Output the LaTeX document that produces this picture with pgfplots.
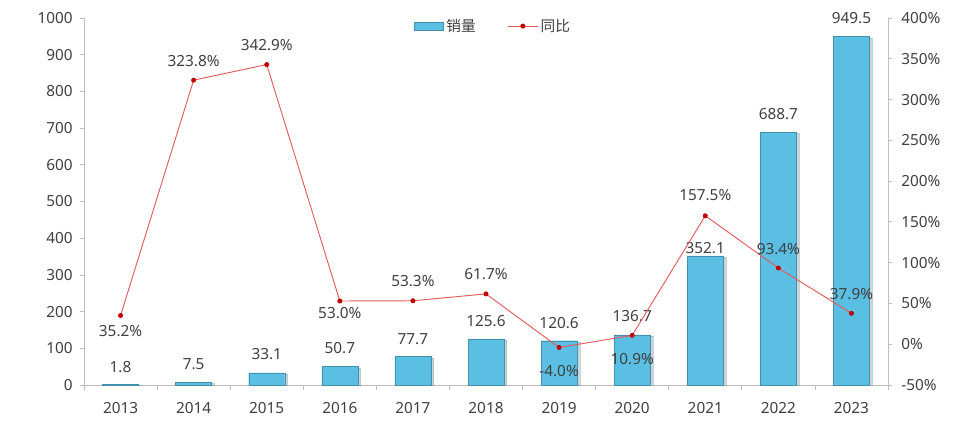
\documentclass[border=0pt]{standalone}
\usepackage{fontspec}
\setmainfont{Noto Sans}
\newfontfamily\cjk{Noto Sans CJK SC}
\usepackage{pgfplots}
\usepackage{pgfplotstable}
\pgfplotsset{compat=1.18}
\usetikzlibrary{shadows}
\definecolor{barblue}{RGB}{91,191,228}
\definecolor{txt}{RGB}{64,64,64}
\definecolor{axgray}{RGB}{190,190,190}
\definecolor{linered}{RGB}{228,90,90}
\definecolor{markred}{RGB}{192,0,0}

\pgfplotstableread{
x y dy
0 1.8 12.75
1 7.5 13.5
2 33.1 14.25
3 50.7 13.5
4 77.7 13.1
5 125.6 13.5
6 120.6 13.5
7 136.7 14.25
8 352.1 5.6
9 688.7 13.5
10 949.5 13.9
}\sales

\pgfplotstableread{
x y dy
0 35.2 -11.6
1 323.8 14.3
2 342.9 14.7
3 53.0 -9
4 53.3 15
5 61.7 15
6 -4.0 -17.6
7 10.9 -17.8
8 157.5 15.6
9 93.4 14.3
10 37.9 14.5
}\yoy

\begin{document}
\begin{tikzpicture}[font=\fontsize{11.5}{13}\selectfont, text=txt]
\useasboundingbox (-63pt,-39pt) rectangle (657pt,288.75pt);
\pgfplotsset{
  common/.style={
    scale only axis, width=603pt, height=275.25pt,
    xmin=-0.5, xmax=10.5,
    tick align=outside,
    axis line style={draw=axgray},
    tick style={draw=axgray, line width=0.6pt},
    /pgf/number format/assume math mode=true,
    ticklabel style={text=txt, font=\fontsize{11.5}{13}\selectfont},
  }
}
\begin{axis}[common,
  ymin=0, ymax=1000,
  axis y line*=left, axis x line*=bottom,
  xtick={0,...,10},
  xticklabels={2013,2014,2015,2016,2017,2018,2019,2020,2021,2022,2023},
  major x tick style={draw=none},
  minor xtick={-0.5,0.5,...,10.5},
  minor tick length=4pt,
  major tick length=3pt,
  ytick={0,100,...,1000},
  yticklabel style={/pgf/number format/1000 sep={}, xshift=-2pt},
  xticklabel style={yshift=-6.5pt},
]
\addplot[ybar, bar width=27pt, draw=barblue!75!black, line width=0.3pt,
  fill=barblue,
  drop shadow={shadow xshift=2pt, shadow yshift=-1pt, opacity=0.35},
  point meta=y,
  nodes near coords={\pgfmathprintnumber[fixed,fixed zerofill,precision=1,assume math mode=true]{\pgfplotspointmeta}},
  visualization depends on={\thisrow{dy} \as \dy},
  nodes near coords style={anchor=center, yshift=\dy pt, text=txt, font=\fontsize{11.5}{13}\selectfont},
] table[x=x,y=y]{\sales};
\node[font=\cjk\fontsize{9.5}{10.5}\selectfont, align=center, text=txt] at (rel axis cs:-0.0746,0.556) {单\\位\\：\\万\\辆};
\end{axis}

\begin{axis}[common,
  ymin=-50, ymax=400,
  axis y line*=right, axis x line=none,
  major tick length=3pt,
  ytick={-50,0,...,400},
  yticklabel={\pgfmathprintnumber{\tick}\%},
  yticklabel style={xshift=3.5pt},
  legend style={at={(0.509,0.978)}, anchor=center, draw=none, fill=none,
    font=\cjk\fontsize{11}{13}\selectfont, text=txt,
    /tikz/every even column/.append style={column sep=22pt}},
  legend columns=2,
]
\addlegendimage{legend image code/.code={
  \draw[draw=barblue!75!black, fill=barblue] (0pt,-3pt) rectangle (22pt,3pt);}}
\addlegendentry{销量}
\addplot[color=linered, line width=0.7pt, mark=*, mark size=1.5pt,
  mark options={fill=markred, draw=markred},
  point meta=y,
  nodes near coords={\pgfmathprintnumber[fixed,fixed zerofill,precision=1,assume math mode=true]{\pgfplotspointmeta}\%},
  visualization depends on={\thisrow{dy} \as \dy},
  nodes near coords style={anchor=center, yshift=\dy pt, text=txt, font=\fontsize{11.5}{13}\selectfont},
  legend image code/.code={
    \draw[linered, line width=0.7pt] (0pt,0pt) -- (22pt,0pt);
    \fill[markred] (11pt,0pt) circle (1.5pt);}
] table[x=x,y=y]{\yoy};
\addlegendentry{同比}
\end{axis}
\end{tikzpicture}
\end{document}
